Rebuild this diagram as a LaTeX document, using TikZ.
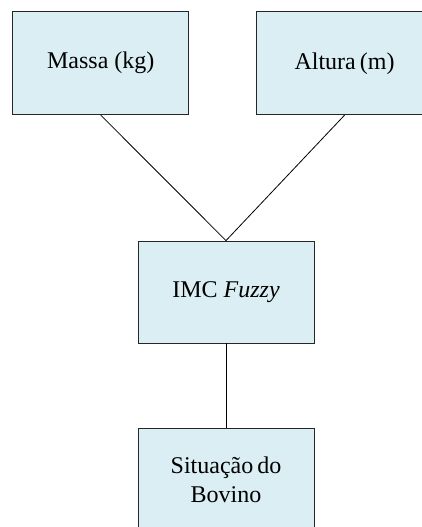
\documentclass[tikz,border=0pt]{standalone}
\usepackage{fontspec}
\setmainfont{Liberation Serif}
\usetikzlibrary{positioning}
\definecolor{boxblue}{HTML}{DAEEF3}

\begin{document}
\begin{tikzpicture}[x=1pt, y=1pt, font=\fontsize{24}{29}\selectfont,
    block/.style={draw=black!85, line width=0.8pt, fill=boxblue, minimum width=176pt, minimum height=103pt, inner sep=0pt, align=center}]
    \useasboundingbox (0,0) rectangle (422,-527);

    \node[block] (massa) at (100.75,-63.25) {Massa (kg)};
    \node[block, right=67pt of massa] (altura) {Altura\,(m)};

    \node[block, minimum height=102pt] (imc) at (226,-292) {IMC \textit{Fuzzy}};
    \node[block, minimum height=102pt, below=85pt of imc] (situacao) {Situação\,do\\Bovino};

 \draw[line width=0.8pt] (massa.south) -- (imc.north);
    \draw[line width=0.8pt] (altura.south) -- (imc.north);
    \draw[line width=0.8pt] (imc.south) -- (situacao.north);
\end{tikzpicture}
\end{document}
